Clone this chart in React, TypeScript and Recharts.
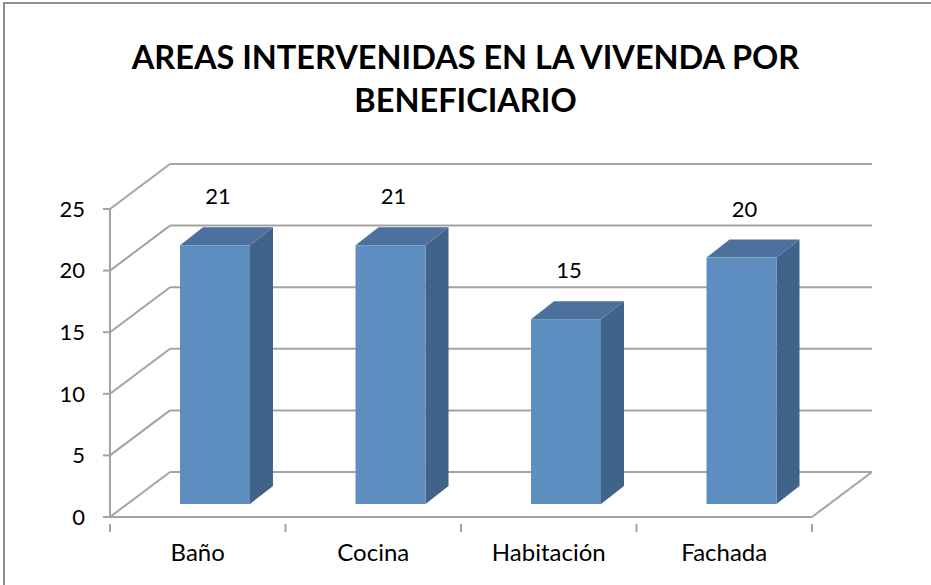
import React from 'react';
import { BarChart, Bar, XAxis, YAxis, CartesianGrid, LabelList } from 'recharts';

const categories = ['Baño', 'Cocina', 'Habitación', 'Fachada'];
const values = [21, 21, 15, 20];
const yTicks = [0, 5, 10, 15, 20, 25];

const data = categories.map((c, i) => ({ name: c, value: values[i] }));

const W = 931;
const H = 585;
const X_AXIS_H = 68;
const M = { top: 209, right: 119, bottom: 0, left: 0 };
const Y_AXIS_W = 110;
const DEPTH_DX = 60;
const DEPTH_DY = -45;
const BAR_OFF_DX = 17;
const BAR_OFF_DY = -13;
const BAR_DEPTH_DX = 23;
const BAR_DEPTH_DY = -18;
const GRID = '#A3A3A3';
const FONT = 'Lato, "Open Sans", sans-serif';

const GridLine = (props: any) => {
  const { x1, y1, x2, y2, index } = props;
  const bx1 = x1 + DEPTH_DX;
  const by = y1 + DEPTH_DY;
  const bx2 = x2 + DEPTH_DX;
  const isFloor = Math.abs(y1 - (H - X_AXIS_H)) < 1;
  return (
    <g key={`g-${index}`}>
      <line x1={x1} y1={y1} x2={bx1} y2={by} stroke={GRID} strokeWidth={2} />
      <line x1={bx1} y1={by} x2={bx2} y2={by} stroke={GRID} strokeWidth={2} />
      {isFloor && <line x1={x2} y1={y2} x2={bx2} y2={by} stroke={GRID} strokeWidth={2} />}
    </g>
  );
};

const Box3D = (props: any) => {
  const { x, y, width, height } = props;
  const fx = x + BAR_OFF_DX;
  const fy = y + BAR_OFF_DY;
  const side = `${fx + width},${fy} ${fx + width + BAR_DEPTH_DX},${fy + BAR_DEPTH_DY} ${fx + width + BAR_DEPTH_DX},${fy + height + BAR_DEPTH_DY} ${fx + width},${fy + height}`;
  const top = `${fx},${fy} ${fx + BAR_DEPTH_DX},${fy + BAR_DEPTH_DY} ${fx + width + BAR_DEPTH_DX},${fy + BAR_DEPTH_DY} ${fx + width},${fy}`;
  return (
    <g>
      <polygon points={side} fill="#3F6389" />
      <polygon points={top} fill="#4B719C" />
      <rect x={fx} y={fy} width={width} height={height} fill="#5E8EBF" />
    </g>
  );
};

const ValueLabel = (props: any) => {
  const { x, y, width, value } = props;
  return (
    <text
      x={x + width / 2 + BAR_OFF_DX + 3}
      y={y + BAR_OFF_DY - 41}
      textAnchor="middle"
      fontSize={22}
      fontFamily={FONT}
      fill="#000"
    >
      {value}
    </text>
  );
};

const XTick = (props: any) => {
  const { x, y, payload, index } = props;
  const band = (W - Y_AXIS_W - M.right) / categories.length;
  const left = x - band / 2;
  const right = x + band / 2;
  return (
    <g>
      <line x1={left} y1={y - 1} x2={left} y2={y + 7} stroke={GRID} strokeWidth={2} />
      {index === categories.length - 1 && (
        <line x1={right} y1={y - 1} x2={right} y2={y + 7} stroke={GRID} strokeWidth={2} />
      )}
      <text x={x} y={y + 36} textAnchor="middle" fontSize={24} fontFamily={FONT} fill="#000">
        {payload.value}
      </text>
    </g>
  );
};

export default function App() {
  return (
    <div style={{ position: 'absolute', left: 0, top: 0, width: W, height: H, overflow: 'hidden', background: '#fff' }}>
      <div
        style={{
          position: 'absolute',
          left: 3,
          top: 2,
          width: W - 3,
          height: H - 2,
          borderTop: '2px solid #8E8E8E',
          borderLeft: '2px solid #8E8E8E',
          boxSizing: 'border-box',
        }}
      />
      <div
        style={{
          position: 'absolute',
          left: 0,
          width: W,
          top: 35,
          textAlign: 'center',
          fontFamily: FONT,
          fontWeight: 700,
          fontSize: 32.5,
          lineHeight: '43px',
          color: '#000',
        }}
      >
        AREAS INTERVENIDAS EN LA VIVENDA POR
        <br />
        BENEFICIARIO
      </div>
      <div style={{ position: 'absolute', left: 0, top: 0 }}>
        <BarChart width={W} height={H} data={data} margin={M} barSize={70}>
          <CartesianGrid vertical={false} horizontal={GridLine as any} />
          <XAxis
            dataKey="name"
            axisLine={{ stroke: GRID, strokeWidth: 2 }}
            tickLine={false}
            tick={XTick as any}
            height={X_AXIS_H}
            interval={0}
          />
          <YAxis
            domain={[0, 25]}
            ticks={yTicks}
            width={Y_AXIS_W}
            axisLine={{ stroke: GRID, strokeWidth: 2 }}
            tickLine={{ stroke: GRID, strokeWidth: 2 }}
            tickSize={7}
            tickMargin={18}
            tick={{ fontSize: 22, fontFamily: FONT, fill: '#000' }}
          />
          <Bar dataKey="value" shape={Box3D as any} isAnimationActive={false}>
            <LabelList dataKey="value" content={ValueLabel as any} />
          </Bar>
        </BarChart>
      </div>
    </div>
  );
}
